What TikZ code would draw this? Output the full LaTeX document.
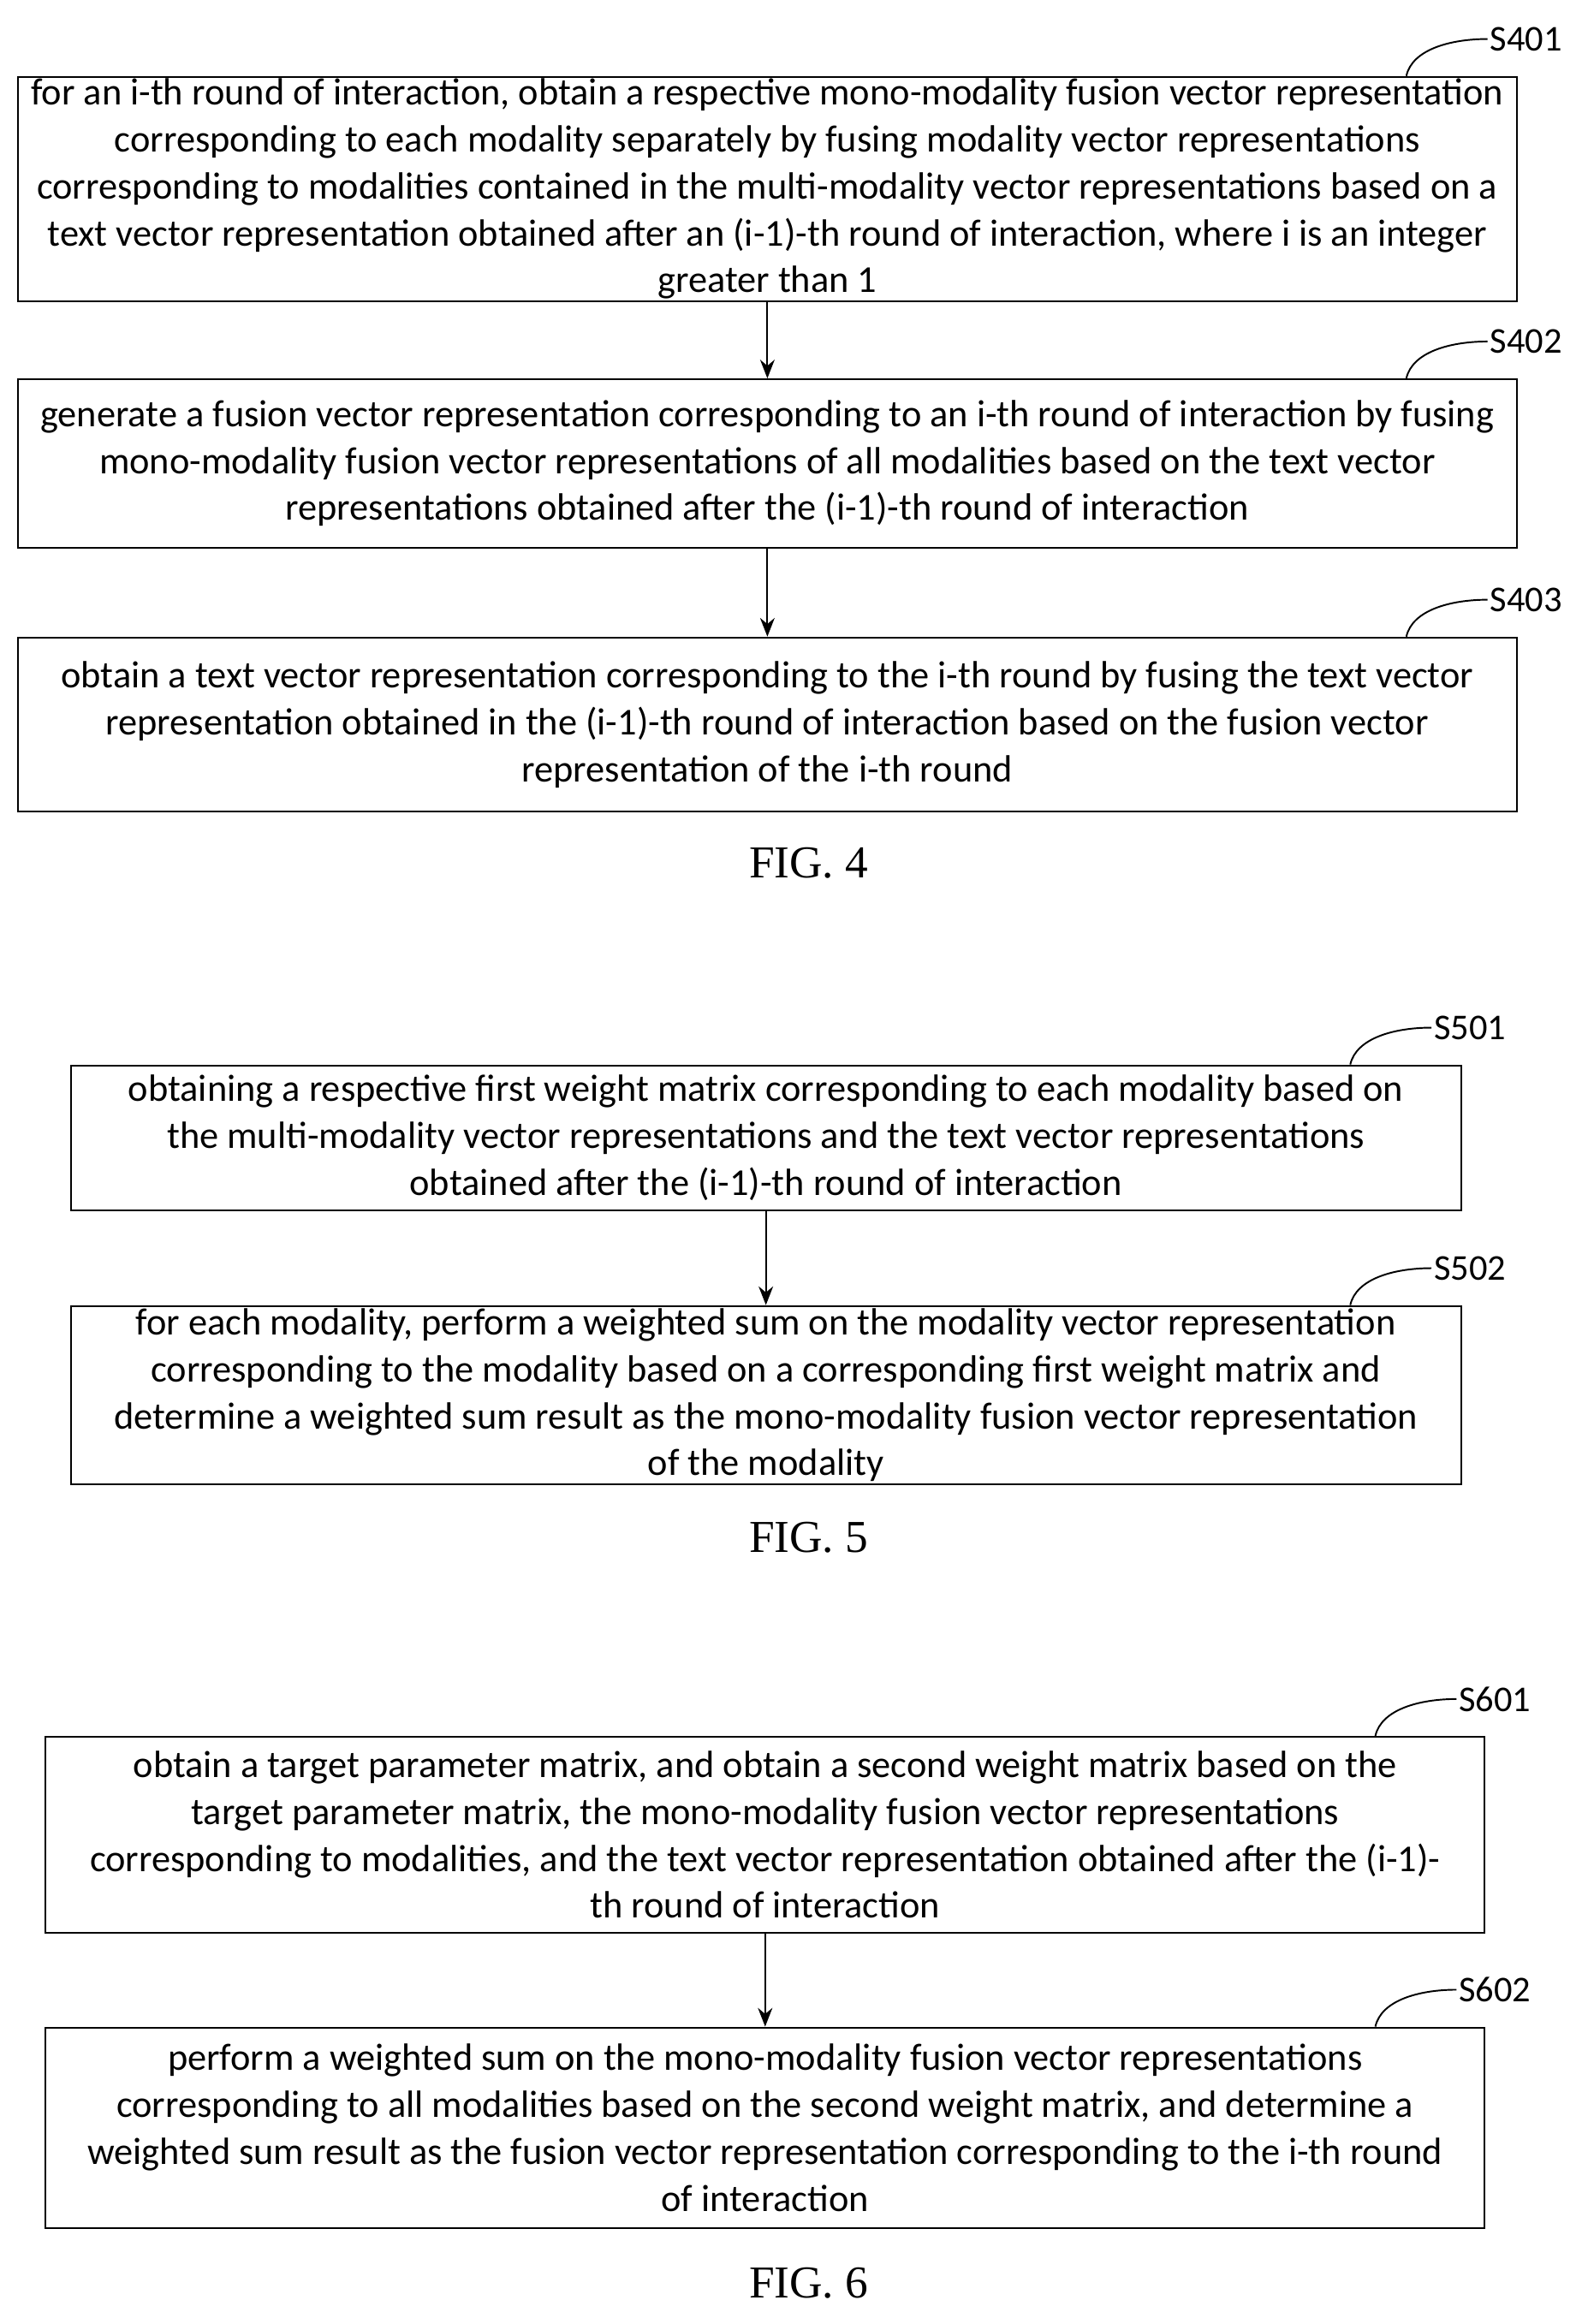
\documentclass[tikz,border=0pt]{standalone}
\usepackage{fontspec}
\setmainfont{Carlito}
\newfontfamily\figfont{Liberation Serif}
\usetikzlibrary{arrows.meta,positioning}
\tikzset{
  stepbox/.style={draw,thick,align=center,inner sep=0pt,font=\fontsize{18.3}{22.6}\selectfont},
  lbl/.style={anchor=west,inner sep=0pt,font=\fontsize{17.5}{20}\selectfont},
  fig/.style={font=\figfont\fontsize{22}{24}\selectfont},
  flow/.style={thick,-{Stealth[length=9pt,width=7pt]}},
  tick/.style={thick}
}
\newcommand{\steplabel}[3]{% box node, x of curve start, text
  \draw[tick] (#2,0 |- #1.north) .. controls ++(4,-18) and ++(-25,0) .. ++(55,-25) coordinate (#1c);
  \node[lbl] (#1l) at ([xshift=1pt]#1c) {#3};}
\begin{document}
\begin{tikzpicture}[x=0.025cm,y=-0.025cm]
\useasboundingbox (0,0) rectangle (1080,1575);
% FIG. 4
\node[stepbox,minimum width=1016*0.025cm,minimum height=152*0.025cm] (s401) at (520,128)
 {for an i-th round of interaction, obtain a respective mono-modality fusion vector representation\\
  corresponding to each modality separately by fusing modality vector representations\\
  corresponding to modalities contained in the multi-modality vector representations based on a\\
  text vector representation obtained after an (i-1)-th round of interaction, where i is an integer\\
  greater than 1};
\node[stepbox,minimum width=1016*0.025cm,minimum height=114*0.025cm] (s402) at (520,314)
 {generate a fusion vector representation corresponding to an i-th round of interaction by fusing\\
  mono-modality fusion vector representations of all modalities based on the text vector\\
  representations obtained after the (i-1)-th round of interaction};
\node[stepbox,minimum width=1016*0.025cm,minimum height=118*0.025cm] (s403) at (520,491)
 {obtain a text vector representation corresponding to the i-th round by fusing the text vector\\
  representation obtained in the (i-1)-th round of interaction based on the fusion vector\\
  representation of the i-th round};
\draw[flow] (s401) -- (s402);
\draw[flow] (s402) -- (s403);
\steplabel{s401}{953}{S401}
\steplabel{s402}{953}{S402}
\steplabel{s403}{953}{S403}
\node[fig] (fig4) at (548,585) {FIG. 4};
% FIG. 5
\node[stepbox,minimum width=942*0.025cm,minimum height=98*0.025cm] (s501) at (519,771)
 {obtaining a respective first weight matrix corresponding to each modality based on\\
  the multi-modality vector representations and the text vector representations\\
  obtained after the (i-1)-th round of interaction};
\node[stepbox,minimum width=942*0.025cm,minimum height=121*0.025cm] (s502) at (519,945.5)
 {for each modality, perform a weighted sum on the modality vector representation\\
  corresponding to the modality based on a corresponding first weight matrix and\\
  determine a weighted sum result as the mono-modality fusion vector representation\\
  of the modality};
\draw[flow] (s501) -- (s502);
\steplabel{s501}{915}{S501}
\steplabel{s502}{915}{S502}
\node[fig] (fig5) at (548,1042) {FIG. 5};
% FIG. 6
\node[stepbox,minimum width=975*0.025cm,minimum height=133*0.025cm] (s601) at (518.5,1243.5)
 {obtain a target parameter matrix, and obtain a second weight matrix based on the\\
  target parameter matrix, the mono-modality fusion vector representations\\
  corresponding to modalities, and the text vector representation obtained after the (i-1)-\\
  th round of interaction};
\node[stepbox,minimum width=975*0.025cm,minimum height=136*0.025cm] (s602) at (518.5,1442)
 {perform a weighted sum on the mono-modality fusion vector representations\\
  corresponding to all modalities based on the second weight matrix, and determine a\\
  weighted sum result as the fusion vector representation corresponding to the i-th round\\
  of interaction};
\draw[flow] (s601) -- (s602);
\steplabel{s601}{932}{S601}
\steplabel{s602}{932}{S602}
\node[fig] (fig6) at (548,1547) {FIG. 6};
\end{tikzpicture}
\end{document}
